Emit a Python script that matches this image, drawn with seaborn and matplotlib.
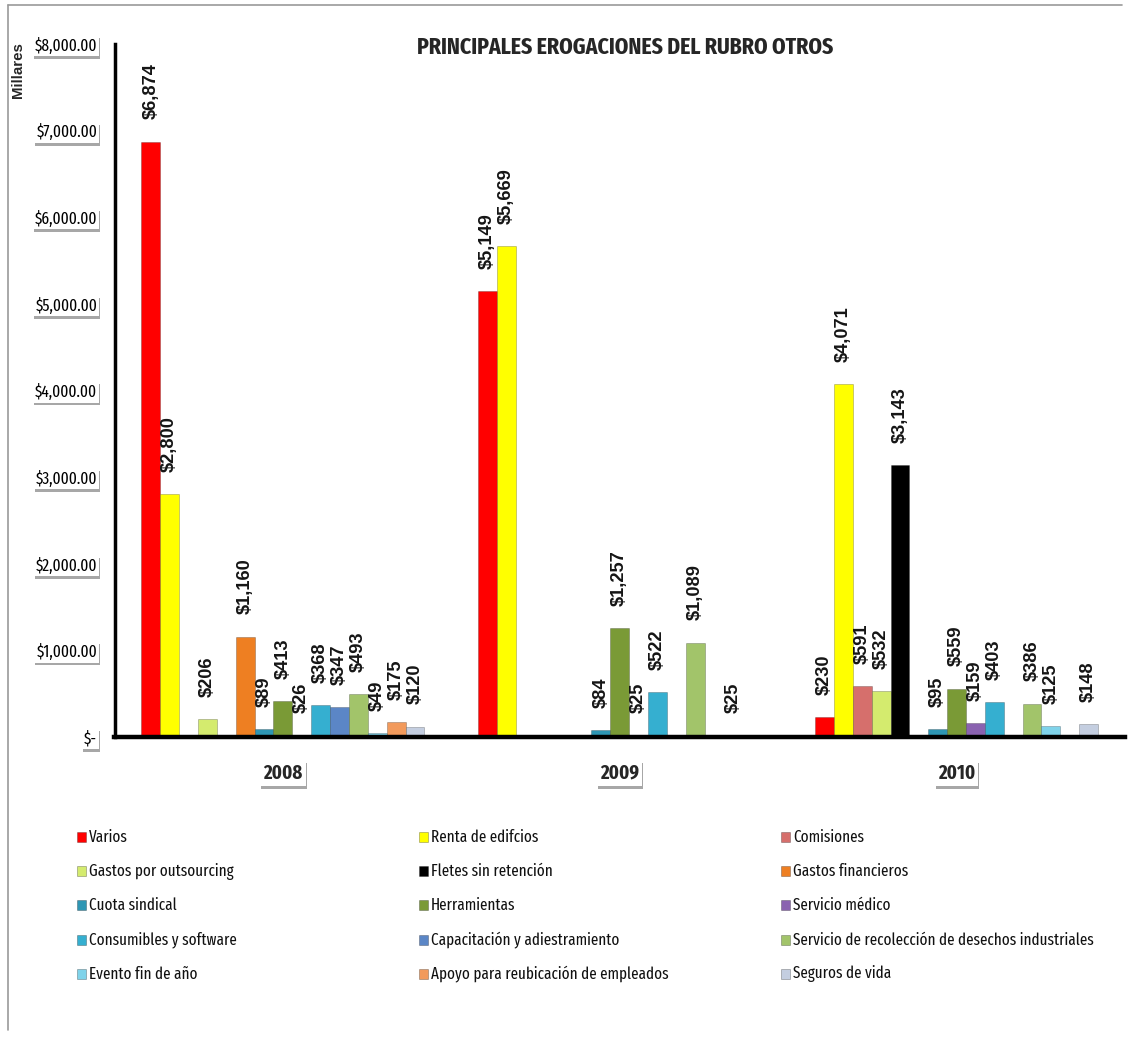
import matplotlib
matplotlib.use("Agg")
import matplotlib.pyplot as plt
import matplotlib.patheffects as pe
from matplotlib.patches import Rectangle
from matplotlib.lines import Line2D
import seaborn as sns
import pandas as pd
import numpy as np

years = ["2008", "2009", "2010"]
series = ["Varios", "Renta de edifcios", "Comisiones", "Gastos por outsourcing",
          "Fletes sin retención", "Gastos financieros", "Cuota sindical", "Herramientas",
          "Servicio médico", "Consumibles y software", "Capacitación y adiestramiento",
          "Servicio de recolección de desechos industriales", "Evento fin de año",
          "Apoyo para reubicación de empleados", "Seguros de vida"]
# values in thousands (None = no bar)
v2008 = [6874, 2800, None, 206, None, 1160, 89, 413, 26, 368, 347, 493, 49, 175, 120]
v2009 = [5149, 5669, None, None, None, None, 84, 1257, 25, 522, None, 1089, None, 25, None]
v2010 = [230, 4071, 591, 532, 3143, None, 95, 559, 159, 403, None, 386, 125, None, 148]
colors = ["#FF0000", "#FFFF00", "#D66F6C", "#D4EB6E", "#000000", "#EE7F22", "#2E96B4",
          "#7A9A36", "#8A62B0", "#35AFD0", "#5B86C6", "#A2C46A", "#7FD3EA", "#F29A5C", "#C4CEE0"]
yticks = [0, 1000, 2000, 3000, 4000, 5000, 6000, 7000, 8000]
ytick_labels = ["$-", "$1,000.00", "$2,000.00", "$3,000.00", "$4,000.00", "$5,000.00",
                "$6,000.00", "$7,000.00", "$8,000.00"]
title = "PRINCIPALES EROGACIONES DEL RUBRO OTROS"

rows = []
for y, vals in zip(years, [v2008, v2009, v2010]):
    for s, v in zip(series, vals):
        rows.append({"year": y, "series": s, "value": 0 if v is None else v,
                     "present": v is not None})
df = pd.DataFrame(rows)

sns.set_style("white")
COND = ["Fira Sans Extra Condensed", "Fira Sans Condensed", "Roboto Condensed",
        "Archivo Narrow", "Lato", "DejaVu Sans"]
ARIAL = ["Liberation Sans", "DejaVu Sans"]
plt.rcParams["font.family"] = COND

W, H = 1136, 1039
fig = plt.figure(figsize=(W / 100, H / 100), dpi=100)
renderer = fig.canvas.get_renderer()


def fit(txt, target_px, family, weight="normal", base=20.0):
    t = fig.text(0, 0, txt, fontsize=base, family=family, fontweight=weight)
    w = t.get_window_extent(renderer).width
    t.remove()
    return base * target_px / w


def fx(px):
    return px / W


def fy(py):
    return 1 - py / H


ax_left, ax_right, ax_top, ax_bot = 114.5, 1125, 44, 737
ax = fig.add_axes([fx(ax_left), fy(ax_bot), fx(ax_right - ax_left), (ax_bot - ax_top) / H])

sns.barplot(data=df, x="year", y="value", hue="series", hue_order=series, order=years,
            palette=colors, dodge=True, width=0.84, gap=0, legend=False, ax=ax,
            edgecolor=(0, 0, 0, 0.25), linewidth=0.6, saturation=1)

ax.set_xlim(-0.5, 2.5)
ax.set_ylim(0, 8000)
ax.set_xlabel("")
ax.set_ylabel("")

# data labels
lab_size = fit("$6,874", 56, ARIAL, "bold")
for i, cont in enumerate(ax.containers):
    labs = []
    for y in years:
        sub = df[(df.series == series[i]) & (df.year == y)].iloc[0]
        labs.append(f"${sub.value:,.0f}" if sub.present else "")
    ax.bar_label(cont, labels=labs, padding=16, rotation=90, fontsize=lab_size,
                 fontweight="bold", family=ARIAL, color="#151515")

for sp in ["top", "right"]:
    ax.spines[sp].set_visible(False)
ax.spines["left"].set_linewidth(2.5)
ax.spines["bottom"].set_linewidth(3.2)
ax.spines["left"].set_color("black")
ax.spines["bottom"].set_color("black")

ytick_size = fit("$8,000.00", 63, COND)
xtick_size = fit("2008", 39, COND, "bold")
ax.set_yticks(yticks)
ax.set_yticklabels(ytick_labels, fontsize=ytick_size, family=COND)
ax.tick_params(axis="y", direction="out", length=3.5, width=2.2, pad=9, colors="black")
ax.tick_params(axis="x", length=0, pad=19)
ax.set_xticks(range(len(years)))
ax.set_xticklabels(years, fontsize=xtick_size, fontweight="bold", family=COND)

shadow = [pe.withSimplePatchShadow(offset=(0.8, -2.0), shadow_rgbFace="#8a8a8a", alpha=0.75)]
for t in ax.get_yticklabels():
    t.set_bbox(dict(boxstyle="square,pad=0.12", fc="white", ec="none"))
    t.get_bbox_patch().set_path_effects(shadow)
for t in ax.get_xticklabels():
    t.set_bbox(dict(boxstyle="square,pad=0.15", fc="white", ec="none"))
    t.get_bbox_patch().set_path_effects(shadow)

# title and axis unit
fig.text(fx(625), fy(47), title, ha="center", va="center",
         fontsize=fit(title, 416, COND, "bold"), fontweight="bold", family=COND)
fig.text(fx(18), fy(70), "Millares", rotation=90, ha="center", va="center",
         fontsize=10.8, fontweight="bold", family=ARIAL)

# legend: three columns, five rows
leg_size = fit("Gastos por outsourcing", 144, COND)
col_x = [77, 419, 781]
row_y = [837, 871, 905, 940, 974]
for k, (name, col) in enumerate(zip(series, colors)):
    r, c = divmod(k, 3)
    x0, y0 = col_x[c], row_y[r]
    fig.add_artist(Rectangle((fx(x0), fy(y0 + 5)), 9 / W, 10 / H, transform=fig.transFigure,
                             facecolor=col, edgecolor=(0, 0, 0, 0.35), linewidth=0.5))
    fig.text(fx(x0 + 12), fy(y0), name, ha="left", va="center", fontsize=leg_size,
             family=COND, color="#111111")

# outer frame lines
fig.add_artist(Line2D([fx(8), fx(8)], [fy(5), fy(1030)], color="#9a9a9a", lw=1.2))
fig.add_artist(Line2D([fx(8), fx(1122)], [fy(5), fy(5)], color="#9a9a9a", lw=1.2))

fig.savefig("out.png", dpi=100)
